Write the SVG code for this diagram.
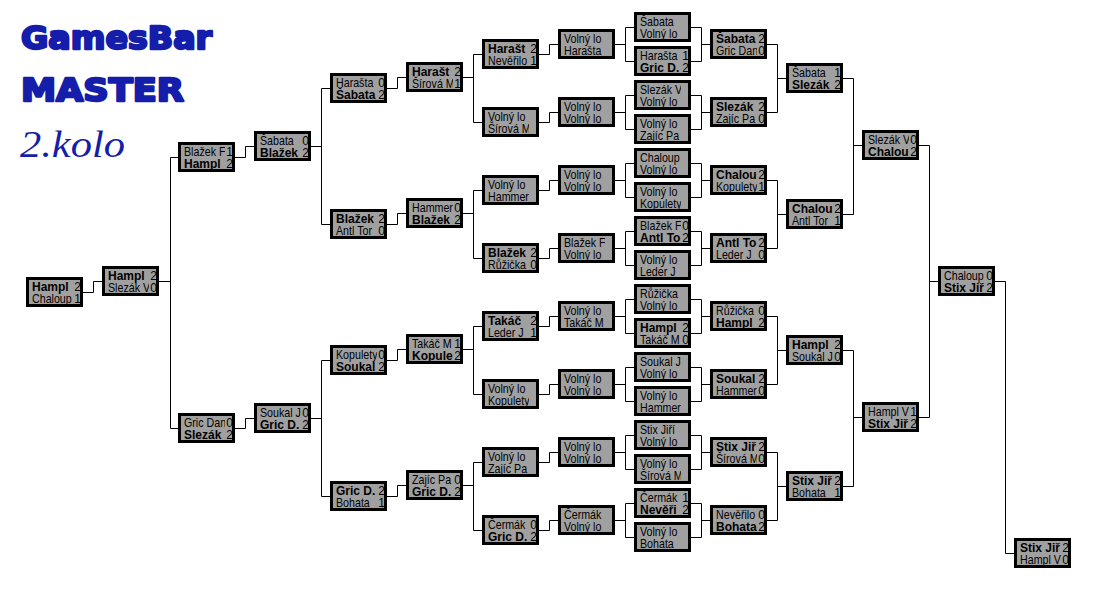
<svg xmlns="http://www.w3.org/2000/svg" width="1111" height="594" viewBox="0 0 1111 594">
<style>
.bx{fill:#a0a0a0;stroke:#000;stroke-width:3}
text{font-family:"Liberation Sans",Arial,sans-serif;font-size:12px;fill:#000}
.n{transform:scaleX(0.89)}
.w{font-weight:bold}
.sc{text-anchor:end}
.cn path{fill:none;stroke:#000;stroke-width:1}
.t{fill:#141eaa;stroke:#141eaa;stroke-width:2.4;stroke-linejoin:round;font-family:"DejaVu Sans",sans-serif;font-weight:bold;font-size:32px}
.t2{fill:#141eaa;font-family:"Liberation Serif",serif;font-style:italic;font-size:38px}
</style>
<rect width="1111" height="594" fill="#fff"/>
<g id="title">
<text class="t" x="21" y="49" textLength="191" lengthAdjust="spacingAndGlyphs">GamesBar</text>
<text class="t" x="21" y="100.5" textLength="163" lengthAdjust="spacingAndGlyphs">MASTER</text>
<text class="t2" x="20" y="157" textLength="105" lengthAdjust="spacingAndGlyphs">2.kolo</text>
</g>
<g class="cn" id="connectors">
<path d="M83,292.5H93.5V281.5H102"/>
<path d="M159,281.5H170.5M178,157.5H170.5V428.5H178"/>
<path d="M235,157.5H245.5V146.5H254M235,428.5H245.5V418.5H254"/>
<path d="M310,146.5H321.5M330,88.5H321.5V224.5H330M310,418.5H321.5M330,360.5H321.5V496.5H330"/>
<path d="M387,88.5H397.5V77.5H406M387,224.5H397.5V213.5H406M387,360.5H397.5V349.5H406M387,496.5H397.5V485.5H406"/>
<path d="M463,77.5H473.5M482,54.5H473.5V122.5H482M463,213.5H473.5M482,190.5H473.5V258.5H482M463,349.5H473.5M482,326.5H473.5V394.5H482M463,485.5H473.5M482,462.5H473.5V530.5H482"/>
<path d="M539,54.5H549.5V44.5H558M539,122.5H549.5V112.5H558M539,190.5H549.5V180.5H558M539,258.5H549.5V248.5H558M539,326.5H549.5V316.5H558M539,394.5H549.5V384.5H558M539,462.5H549.5V452.5H558M539,530.5H549.5V520.5H558"/>
<path d="M615,44.5H625.5M634,27.5H625.5V61.5H634M615,112.5H625.5M634,95.5H625.5V129.5H634M615,180.5H625.5M634,163.5H625.5V197.5H634M615,248.5H625.5M634,231.5H625.5V265.5H634M615,316.5H625.5M634,299.5H625.5V333.5H634M615,384.5H625.5M634,367.5H625.5V401.5H634M615,452.5H625.5M634,435.5H625.5V469.5H634M615,520.5H625.5M634,503.5H625.5V537.5H634"/>
<path d="M691,27.5H701.5V61.5H691M701.5,44.5H710M691,95.5H701.5V129.5H691M701.5,112.5H710M691,163.5H701.5V197.5H691M701.5,180.5H710M691,231.5H701.5V265.5H691M701.5,248.5H710M691,299.5H701.5V333.5H691M701.5,316.5H710M691,367.5H701.5V401.5H691M701.5,384.5H710M691,435.5H701.5V469.5H691M701.5,452.5H710M691,503.5H701.5V537.5H691M701.5,520.5H710"/>
<path d="M767,44.5H777.5V112.5H767M777.5,78.5H786M767,180.5H777.5V248.5H767M777.5,214.5H786M767,316.5H777.5V384.5H767M777.5,350.5H786M767,452.5H777.5V520.5H767M777.5,486.5H786"/>
<path d="M843,78.5H853.5V214.5H843M853.5,145.5H862M843,350.5H853.5V486.5H843M853.5,417.5H862"/>
<path d="M919,145.5H929.5V417.5H919M929.5,281.5H938"/>
<path d="M995,281.5H1005.5V553.5H1014"/>
</g>
<g id="c0-0" transform="translate(26,277)"><rect class="bx" x="1.5" y="1.5" width="54" height="27"/><svg width="47" height="30"><text class="w" x="6" y="14">Hampl</text><text class="n" x="6.74" y="26">Chaloup</text></svg><text class="sc" x="55" y="14">2</text><text class="sc" x="55" y="26">1</text></g>
<g id="c1-0" transform="translate(102,266)"><rect class="bx" x="1.5" y="1.5" width="54" height="27"/><svg width="47" height="30"><text class="w" x="6" y="14">Hampl</text><text class="n" x="6.74" y="26">Slezák V</text></svg><text class="sc" x="55" y="14">2</text><text class="sc" x="55" y="26">0</text></g>
<g id="c2-0" transform="translate(178,142)"><rect class="bx" x="1.5" y="1.5" width="54" height="27"/><svg width="47" height="30"><text class="n" x="6.74" y="14">Blažek F</text><text class="w" x="6" y="26">Hampl</text></svg><text class="sc" x="55" y="14">1</text><text class="sc" x="55" y="26">2</text></g>
<g id="c2-1" transform="translate(178,413)"><rect class="bx" x="1.5" y="1.5" width="54" height="27"/><svg width="47" height="30"><text class="n" x="6.74" y="14">Gric Dan</text><text class="w" x="6" y="26">Slezák</text></svg><text class="sc" x="55" y="14">0</text><text class="sc" x="55" y="26">2</text></g>
<g id="c3-0" transform="translate(254,131)"><rect class="bx" x="1.5" y="1.5" width="54" height="27"/><svg width="47" height="30"><text class="n" x="6.74" y="14">Šabata</text><text class="w" x="6" y="26">Blažek</text></svg><text class="sc" x="55" y="14">0</text><text class="sc" x="55" y="26">2</text></g>
<g id="c3-1" transform="translate(254,403)"><rect class="bx" x="1.5" y="1.5" width="54" height="27"/><svg width="47" height="30"><text class="n" x="6.74" y="14">Soukal J</text><text class="w" x="6" y="26">Gric D.</text></svg><text class="sc" x="55" y="14">0</text><text class="sc" x="55" y="26">2</text></g>
<g id="c4-0" transform="translate(330,73)"><rect class="bx" x="1.5" y="1.5" width="54" height="27"/><svg width="47" height="30"><text class="n" x="6.74" y="14">Harašta</text><text class="w" x="6" y="26">Šabata</text></svg><text class="sc" x="55" y="14">0</text><text class="sc" x="55" y="26">2</text></g>
<g id="c4-1" transform="translate(330,209)"><rect class="bx" x="1.5" y="1.5" width="54" height="27"/><svg width="47" height="30"><text class="w" x="6" y="14">Blažek</text><text class="n" x="6.74" y="26">Antl Tor</text></svg><text class="sc" x="55" y="14">2</text><text class="sc" x="55" y="26">0</text></g>
<g id="c4-2" transform="translate(330,345)"><rect class="bx" x="1.5" y="1.5" width="54" height="27"/><svg width="47" height="30"><text class="n" x="6.74" y="14">Kopulety</text><text class="w" x="6" y="26">Soukal</text></svg><text class="sc" x="55" y="14">0</text><text class="sc" x="55" y="26">2</text></g>
<g id="c4-3" transform="translate(330,481)"><rect class="bx" x="1.5" y="1.5" width="54" height="27"/><svg width="47" height="30"><text class="w" x="6" y="14">Gric D.</text><text class="n" x="6.74" y="26">Bohata</text></svg><text class="sc" x="55" y="14">2</text><text class="sc" x="55" y="26">1</text></g>
<g id="c5-0" transform="translate(406,62)"><rect class="bx" x="1.5" y="1.5" width="54" height="27"/><svg width="47" height="30"><text class="w" x="6" y="14">Harašt</text><text class="n" x="6.74" y="26">Šírová M</text></svg><text class="sc" x="55" y="14">2</text><text class="sc" x="55" y="26">1</text></g>
<g id="c5-1" transform="translate(406,198)"><rect class="bx" x="1.5" y="1.5" width="54" height="27"/><svg width="47" height="30"><text class="n" x="6.74" y="14">Hammer</text><text class="w" x="6" y="26">Blažek</text></svg><text class="sc" x="55" y="14">0</text><text class="sc" x="55" y="26">2</text></g>
<g id="c5-2" transform="translate(406,334)"><rect class="bx" x="1.5" y="1.5" width="54" height="27"/><svg width="47" height="30"><text class="n" x="6.74" y="14">Takáč M</text><text class="w" x="6" y="26">Kopule</text></svg><text class="sc" x="55" y="14">1</text><text class="sc" x="55" y="26">2</text></g>
<g id="c5-3" transform="translate(406,470)"><rect class="bx" x="1.5" y="1.5" width="54" height="27"/><svg width="47" height="30"><text class="n" x="6.74" y="14">Zajíc Pa</text><text class="w" x="6" y="26">Gric D.</text></svg><text class="sc" x="55" y="14">0</text><text class="sc" x="55" y="26">2</text></g>
<g id="c6-0" transform="translate(482,39)"><rect class="bx" x="1.5" y="1.5" width="54" height="27"/><svg width="47" height="30"><text class="w" x="6" y="14">Harašt</text><text class="n" x="6.74" y="26">Nevěřilo</text></svg><text class="sc" x="55" y="14">2</text><text class="sc" x="55" y="26">1</text></g>
<g id="c6-1" transform="translate(482,107)"><rect class="bx" x="1.5" y="1.5" width="54" height="27"/><svg width="47" height="30"><text class="n" x="6.74" y="14">Volný lo</text><text class="n" x="6.74" y="26">Šírová M</text></svg></g>
<g id="c6-2" transform="translate(482,175)"><rect class="bx" x="1.5" y="1.5" width="54" height="27"/><svg width="47" height="30"><text class="n" x="6.74" y="14">Volný lo</text><text class="n" x="6.74" y="26">Hammer</text></svg></g>
<g id="c6-3" transform="translate(482,243)"><rect class="bx" x="1.5" y="1.5" width="54" height="27"/><svg width="47" height="30"><text class="w" x="6" y="14">Blažek</text><text class="n" x="6.74" y="26">Růžička</text></svg><text class="sc" x="55" y="14">2</text><text class="sc" x="55" y="26">0</text></g>
<g id="c6-4" transform="translate(482,311)"><rect class="bx" x="1.5" y="1.5" width="54" height="27"/><svg width="47" height="30"><text class="w" x="6" y="14">Takáč</text><text class="n" x="6.74" y="26">Leder J</text></svg><text class="sc" x="55" y="14">2</text><text class="sc" x="55" y="26">1</text></g>
<g id="c6-5" transform="translate(482,379)"><rect class="bx" x="1.5" y="1.5" width="54" height="27"/><svg width="47" height="30"><text class="n" x="6.74" y="14">Volný lo</text><text class="n" x="6.74" y="26">Kopulety</text></svg></g>
<g id="c6-6" transform="translate(482,447)"><rect class="bx" x="1.5" y="1.5" width="54" height="27"/><svg width="47" height="30"><text class="n" x="6.74" y="14">Volný lo</text><text class="n" x="6.74" y="26">Zajíc Pa</text></svg></g>
<g id="c6-7" transform="translate(482,515)"><rect class="bx" x="1.5" y="1.5" width="54" height="27"/><svg width="47" height="30"><text class="n" x="6.74" y="14">Čermák</text><text class="w" x="6" y="26">Gric D.</text></svg><text class="sc" x="55" y="14">0</text><text class="sc" x="55" y="26">2</text></g>
<g id="c7-0" transform="translate(558,29)"><rect class="bx" x="1.5" y="1.5" width="54" height="27"/><svg width="47" height="30"><text class="n" x="6.74" y="14">Volný lo</text><text class="n" x="6.74" y="26">Harašta</text></svg></g>
<g id="c7-1" transform="translate(558,97)"><rect class="bx" x="1.5" y="1.5" width="54" height="27"/><svg width="47" height="30"><text class="n" x="6.74" y="14">Volný lo</text><text class="n" x="6.74" y="26">Volný lo</text></svg></g>
<g id="c7-2" transform="translate(558,165)"><rect class="bx" x="1.5" y="1.5" width="54" height="27"/><svg width="47" height="30"><text class="n" x="6.74" y="14">Volný lo</text><text class="n" x="6.74" y="26">Volný lo</text></svg></g>
<g id="c7-3" transform="translate(558,233)"><rect class="bx" x="1.5" y="1.5" width="54" height="27"/><svg width="47" height="30"><text class="n" x="6.74" y="14">Blažek F</text><text class="n" x="6.74" y="26">Volný lo</text></svg></g>
<g id="c7-4" transform="translate(558,301)"><rect class="bx" x="1.5" y="1.5" width="54" height="27"/><svg width="47" height="30"><text class="n" x="6.74" y="14">Volný lo</text><text class="n" x="6.74" y="26">Takáč M</text></svg></g>
<g id="c7-5" transform="translate(558,369)"><rect class="bx" x="1.5" y="1.5" width="54" height="27"/><svg width="47" height="30"><text class="n" x="6.74" y="14">Volný lo</text><text class="n" x="6.74" y="26">Volný lo</text></svg></g>
<g id="c7-6" transform="translate(558,437)"><rect class="bx" x="1.5" y="1.5" width="54" height="27"/><svg width="47" height="30"><text class="n" x="6.74" y="14">Volný lo</text><text class="n" x="6.74" y="26">Volný lo</text></svg></g>
<g id="c7-7" transform="translate(558,505)"><rect class="bx" x="1.5" y="1.5" width="54" height="27"/><svg width="47" height="30"><text class="n" x="6.74" y="14">Čermák</text><text class="n" x="6.74" y="26">Volný lo</text></svg></g>
<g id="c8-0" transform="translate(634,12)"><rect class="bx" x="1.5" y="1.5" width="54" height="27"/><svg width="47" height="30"><text class="n" x="6.74" y="14">Šabata</text><text class="n" x="6.74" y="26">Volný lo</text></svg></g>
<g id="c8-1" transform="translate(634,46)"><rect class="bx" x="1.5" y="1.5" width="54" height="27"/><svg width="47" height="30"><text class="n" x="6.74" y="14">Harašta</text><text class="w" x="6" y="26">Gric D.</text></svg><text class="sc" x="55" y="14">1</text><text class="sc" x="55" y="26">2</text></g>
<g id="c8-2" transform="translate(634,80)"><rect class="bx" x="1.5" y="1.5" width="54" height="27"/><svg width="47" height="30"><text class="n" x="6.74" y="14">Slezák V</text><text class="n" x="6.74" y="26">Volný lo</text></svg></g>
<g id="c8-3" transform="translate(634,114)"><rect class="bx" x="1.5" y="1.5" width="54" height="27"/><svg width="47" height="30"><text class="n" x="6.74" y="14">Volný lo</text><text class="n" x="6.74" y="26">Zajíc Pa</text></svg></g>
<g id="c8-4" transform="translate(634,148)"><rect class="bx" x="1.5" y="1.5" width="54" height="27"/><svg width="47" height="30"><text class="n" x="6.74" y="14">Chaloup</text><text class="n" x="6.74" y="26">Volný lo</text></svg></g>
<g id="c8-5" transform="translate(634,182)"><rect class="bx" x="1.5" y="1.5" width="54" height="27"/><svg width="47" height="30"><text class="n" x="6.74" y="14">Volný lo</text><text class="n" x="6.74" y="26">Kopulety</text></svg></g>
<g id="c8-6" transform="translate(634,216)"><rect class="bx" x="1.5" y="1.5" width="54" height="27"/><svg width="47" height="30"><text class="n" x="6.74" y="14">Blažek F</text><text class="w" x="6" y="26">Antl To</text></svg><text class="sc" x="55" y="14">0</text><text class="sc" x="55" y="26">2</text></g>
<g id="c8-7" transform="translate(634,250)"><rect class="bx" x="1.5" y="1.5" width="54" height="27"/><svg width="47" height="30"><text class="n" x="6.74" y="14">Volný lo</text><text class="n" x="6.74" y="26">Leder J</text></svg></g>
<g id="c8-8" transform="translate(634,284)"><rect class="bx" x="1.5" y="1.5" width="54" height="27"/><svg width="47" height="30"><text class="n" x="6.74" y="14">Růžička</text><text class="n" x="6.74" y="26">Volný lo</text></svg></g>
<g id="c8-9" transform="translate(634,318)"><rect class="bx" x="1.5" y="1.5" width="54" height="27"/><svg width="47" height="30"><text class="w" x="6" y="14">Hampl</text><text class="n" x="6.74" y="26">Takáč M</text></svg><text class="sc" x="55" y="14">2</text><text class="sc" x="55" y="26">0</text></g>
<g id="c8-10" transform="translate(634,352)"><rect class="bx" x="1.5" y="1.5" width="54" height="27"/><svg width="47" height="30"><text class="n" x="6.74" y="14">Soukal J</text><text class="n" x="6.74" y="26">Volný lo</text></svg></g>
<g id="c8-11" transform="translate(634,386)"><rect class="bx" x="1.5" y="1.5" width="54" height="27"/><svg width="47" height="30"><text class="n" x="6.74" y="14">Volný lo</text><text class="n" x="6.74" y="26">Hammer</text></svg></g>
<g id="c8-12" transform="translate(634,420)"><rect class="bx" x="1.5" y="1.5" width="54" height="27"/><svg width="47" height="30"><text class="n" x="6.74" y="14">Stix Jiří</text><text class="n" x="6.74" y="26">Volný lo</text></svg></g>
<g id="c8-13" transform="translate(634,454)"><rect class="bx" x="1.5" y="1.5" width="54" height="27"/><svg width="47" height="30"><text class="n" x="6.74" y="14">Volný lo</text><text class="n" x="6.74" y="26">Šírová M</text></svg></g>
<g id="c8-14" transform="translate(634,488)"><rect class="bx" x="1.5" y="1.5" width="54" height="27"/><svg width="47" height="30"><text class="n" x="6.74" y="14">Čermák</text><text class="w" x="6" y="26">Nevěři</text></svg><text class="sc" x="55" y="14">1</text><text class="sc" x="55" y="26">2</text></g>
<g id="c8-15" transform="translate(634,522)"><rect class="bx" x="1.5" y="1.5" width="54" height="27"/><svg width="47" height="30"><text class="n" x="6.74" y="14">Volný lo</text><text class="n" x="6.74" y="26">Bohata</text></svg></g>
<g id="c9-0" transform="translate(710,29)"><rect class="bx" x="1.5" y="1.5" width="54" height="27"/><svg width="47" height="30"><text class="w" x="6" y="14">Šabata</text><text class="n" x="6.74" y="26">Gric Dan</text></svg><text class="sc" x="55" y="14">2</text><text class="sc" x="55" y="26">0</text></g>
<g id="c9-1" transform="translate(710,97)"><rect class="bx" x="1.5" y="1.5" width="54" height="27"/><svg width="47" height="30"><text class="w" x="6" y="14">Slezák</text><text class="n" x="6.74" y="26">Zajíc Pa</text></svg><text class="sc" x="55" y="14">2</text><text class="sc" x="55" y="26">0</text></g>
<g id="c9-2" transform="translate(710,165)"><rect class="bx" x="1.5" y="1.5" width="54" height="27"/><svg width="47" height="30"><text class="w" x="6" y="14">Chalou</text><text class="n" x="6.74" y="26">Kopulety</text></svg><text class="sc" x="55" y="14">2</text><text class="sc" x="55" y="26">1</text></g>
<g id="c9-3" transform="translate(710,233)"><rect class="bx" x="1.5" y="1.5" width="54" height="27"/><svg width="47" height="30"><text class="w" x="6" y="14">Antl To</text><text class="n" x="6.74" y="26">Leder J</text></svg><text class="sc" x="55" y="14">2</text><text class="sc" x="55" y="26">0</text></g>
<g id="c9-4" transform="translate(710,301)"><rect class="bx" x="1.5" y="1.5" width="54" height="27"/><svg width="47" height="30"><text class="n" x="6.74" y="14">Růžička</text><text class="w" x="6" y="26">Hampl</text></svg><text class="sc" x="55" y="14">0</text><text class="sc" x="55" y="26">2</text></g>
<g id="c9-5" transform="translate(710,369)"><rect class="bx" x="1.5" y="1.5" width="54" height="27"/><svg width="47" height="30"><text class="w" x="6" y="14">Soukal</text><text class="n" x="6.74" y="26">Hammer</text></svg><text class="sc" x="55" y="14">2</text><text class="sc" x="55" y="26">0</text></g>
<g id="c9-6" transform="translate(710,437)"><rect class="bx" x="1.5" y="1.5" width="54" height="27"/><svg width="47" height="30"><text class="w" x="6" y="14">Stix Jiř</text><text class="n" x="6.74" y="26">Šírová M</text></svg><text class="sc" x="55" y="14">2</text><text class="sc" x="55" y="26">0</text></g>
<g id="c9-7" transform="translate(710,505)"><rect class="bx" x="1.5" y="1.5" width="54" height="27"/><svg width="47" height="30"><text class="n" x="6.74" y="14">Nevěřilo</text><text class="w" x="6" y="26">Bohata</text></svg><text class="sc" x="55" y="14">0</text><text class="sc" x="55" y="26">2</text></g>
<g id="c10-0" transform="translate(786,63)"><rect class="bx" x="1.5" y="1.5" width="54" height="27"/><svg width="47" height="30"><text class="n" x="6.74" y="14">Šabata</text><text class="w" x="6" y="26">Slezák</text></svg><text class="sc" x="55" y="14">1</text><text class="sc" x="55" y="26">2</text></g>
<g id="c10-1" transform="translate(786,199)"><rect class="bx" x="1.5" y="1.5" width="54" height="27"/><svg width="47" height="30"><text class="w" x="6" y="14">Chalou</text><text class="n" x="6.74" y="26">Antl Tor</text></svg><text class="sc" x="55" y="14">2</text><text class="sc" x="55" y="26">1</text></g>
<g id="c10-2" transform="translate(786,335)"><rect class="bx" x="1.5" y="1.5" width="54" height="27"/><svg width="47" height="30"><text class="w" x="6" y="14">Hampl</text><text class="n" x="6.74" y="26">Soukal J</text></svg><text class="sc" x="55" y="14">2</text><text class="sc" x="55" y="26">0</text></g>
<g id="c10-3" transform="translate(786,471)"><rect class="bx" x="1.5" y="1.5" width="54" height="27"/><svg width="47" height="30"><text class="w" x="6" y="14">Stix Jiř</text><text class="n" x="6.74" y="26">Bohata</text></svg><text class="sc" x="55" y="14">2</text><text class="sc" x="55" y="26">1</text></g>
<g id="c11-0" transform="translate(862,130)"><rect class="bx" x="1.5" y="1.5" width="54" height="27"/><svg width="47" height="30"><text class="n" x="6.74" y="14">Slezák V</text><text class="w" x="6" y="26">Chalou</text></svg><text class="sc" x="55" y="14">0</text><text class="sc" x="55" y="26">2</text></g>
<g id="c11-1" transform="translate(862,402)"><rect class="bx" x="1.5" y="1.5" width="54" height="27"/><svg width="47" height="30"><text class="n" x="6.74" y="14">Hampl V</text><text class="w" x="6" y="26">Stix Jiř</text></svg><text class="sc" x="55" y="14">1</text><text class="sc" x="55" y="26">2</text></g>
<g id="c12-0" transform="translate(938,266)"><rect class="bx" x="1.5" y="1.5" width="54" height="27"/><svg width="47" height="30"><text class="n" x="6.74" y="14">Chaloup</text><text class="w" x="6" y="26">Stix Jiř</text></svg><text class="sc" x="55" y="14">0</text><text class="sc" x="55" y="26">2</text></g>
<g id="c13-0" transform="translate(1014,538)"><rect class="bx" x="1.5" y="1.5" width="54" height="27"/><svg width="47" height="30"><text class="w" x="6" y="14">Stix Jiř</text><text class="n" x="6.74" y="26">Hampl V</text></svg><text class="sc" x="55" y="14">2</text><text class="sc" x="55" y="26">0</text></g>
</svg>
